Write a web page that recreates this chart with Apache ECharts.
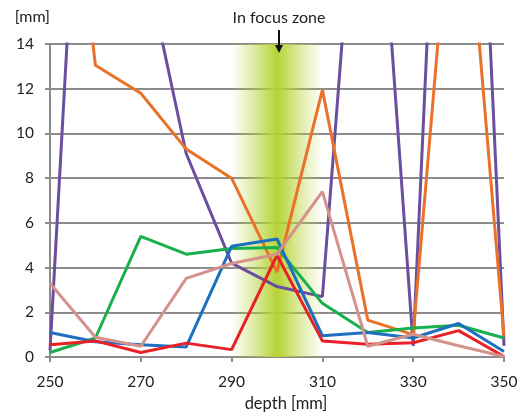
<!DOCTYPE html>
<html>
  <head>
    <meta charset="utf-8">
    <title>depth</title>
    <script src="https://cdn.jsdelivr.net/npm/echarts@6/dist/echarts.min.js"></script>
    <style>
      html, body { margin: 0; padding: 0; background: #fff; }
      #chart1 { width: 528px; height: 412px; }
    </style>
  </head>
  <body>
    <div id="chart1"></div>
  </body>
  <script>
    // depth positions (mm)
    var depth = [250, 260, 270, 280, 290, 300, 310, 320, 330, 340, 350];
    var xTicks = [250, 270, 290, 310, 330, 350];
    var yTicks = [0, 2, 4, 6, 8, 10, 12, 14];
    var focusZone = [290, 300, 310];

    // series values (mm), values above 14 run off the chart
    var purple = [0.3, 37, 18.6, 9.1, 4.2, 3.15, 2.7, 29, 0.5, 45, 0.5];
    var orange = [31, 13.05, 11.8, 9.3, 8.0, 3.8, 11.95, 1.65, 1.0, 25, 0.9];
    var green  = [0.2, 0.85, 5.4, 4.6, 4.85, 4.9, 2.4, 1.1, 1.3, 1.42, 0.85];
    var blue   = [1.1, 0.68, 0.55, 0.45, 4.95, 5.28, 0.95, 1.1, 0.85, 1.5, 0.25];
    var red    = [0.55, 0.72, 0.2, 0.62, 0.33, 4.55, 0.72, 0.57, 0.64, 1.18, 0.02];
    var pink   = [3.3, 0.88, 0.48, 3.52, 4.18, 4.6, 7.4, 0.48, 1.02, 0.5, 0.02];

    function pairs(vals) {
      return depth.map(function (d, i) { return [d, vals[i]]; });
    }

    var fontFam = 'Lato, "Open Sans", sans-serif';

    var myChart = echarts.init(document.getElementById('chart1'));
    var option = {
      animation: false,
      grid: { left: 50, right: 24, top: 44, bottom: 55, containLabel: false, outerBoundsMode: 'none' },
      xAxis: {
        type: 'value',
        min: xTicks[0],
        max: xTicks[xTicks.length - 1],
        interval: xTicks[1] - xTicks[0],
        name: 'depth [mm]',
        nameLocation: 'middle',
        nameGap: 36,
        nameTextStyle: { color: '#222', fontSize: 16.5, fontFamily: fontFam, padding: [0, 0, 0, 18] },
        axisLine: { lineStyle: { color: '#8c8c8c', width: 2 } },
        axisTick: { show: true, length: 5, lineStyle: { color: '#8c8c8c', width: 2 } },
        axisLabel: { color: '#222', fontSize: 15.5, fontFamily: fontFam, margin: 17 },
        splitLine: { show: false }
      },
      yAxis: {
        type: 'value',
        min: yTicks[0],
        max: yTicks[yTicks.length - 1],
        interval: yTicks[1] - yTicks[0],
        name: '[mm]',
        nameLocation: 'end',
        nameGap: 19,
        nameTextStyle: { color: '#222', fontSize: 16, fontFamily: fontFam, align: 'right' },
        axisLine: { show: true, lineStyle: { color: '#8c8c8c', width: 2 } },
        axisTick: { show: true, length: 5, lineStyle: { color: '#8c8c8c', width: 2 } },
        axisLabel: { color: '#222', fontSize: 15.5, fontFamily: fontFam, margin: 16 },
        splitLine: { lineStyle: { color: '#8c8c8c', width: 2 } }
      },
      series: [
        {
          name: 'focus',
          type: 'line',
          data: [],
          z: 1,
          markArea: {
            silent: true,
            itemStyle: {
              color: {
                type: 'linear', x: 0, y: 0, x2: 1, y2: 0,
                colorStops: [
                  { offset: 0, color: 'rgba(181,211,52,0)' },
                  { offset: 0.25, color: 'rgba(181,211,52,0.45)' },
                  { offset: 0.5, color: 'rgba(181,211,52,1)' },
                  { offset: 0.75, color: 'rgba(181,211,52,0.45)' },
                  { offset: 1, color: 'rgba(181,211,52,0)' }
                ]
              }
            },
            data: [[{ xAxis: focusZone[0] }, { xAxis: focusZone[2] }]]
          }
        },
        { name: 'a', type: 'line', z: 3, data: pairs(purple), symbol: 'none', lineStyle: { color: '#6b4f9e', width: 3 } },
        { name: 'b', type: 'line', z: 3, data: pairs(orange), symbol: 'none', lineStyle: { color: '#e9712a', width: 3 } },
        { name: 'c', type: 'line', z: 3, data: pairs(green), symbol: 'none', lineStyle: { color: '#18b04c', width: 3 } },
        { name: 'd', type: 'line', z: 3, data: pairs(blue), symbol: 'none', lineStyle: { color: '#1f6fc1', width: 3 } },
        { name: 'e', type: 'line', z: 3, data: pairs(red), symbol: 'none', lineStyle: { color: '#ea2027', width: 3 } },
        { name: 'f', type: 'line', z: 3, data: pairs(pink), symbol: 'none', lineStyle: { color: '#d4928d', width: 3 } }
      ]
    };
    myChart.setOption(option);

    // "In focus zone" label with arrow
    var zoneTop = myChart.convertToPixel({ gridIndex: 0 }, [focusZone[1], yTicks[yTicks.length - 1]]);
    var cx = zoneTop[0] + 2;
    myChart.setOption({
      graphic: [
        {
          type: 'text', x: cx, y: 18,
          style: { text: 'In focus zone', fill: '#222', font: '16px ' + fontFam, align: 'center', verticalAlign: 'middle' },
          z: 10
        },
        {
          type: 'line', shape: { x1: cx, y1: 30, x2: cx, y2: 47 },
          style: { stroke: '#111', lineWidth: 2 }, z: 10
        },
        {
          type: 'polygon', shape: { points: [[cx - 4, 45], [cx + 4, 45], [cx, 53]] },
          style: { fill: '#111' }, z: 10
        }
      ]
    });
  </script>
</html>
